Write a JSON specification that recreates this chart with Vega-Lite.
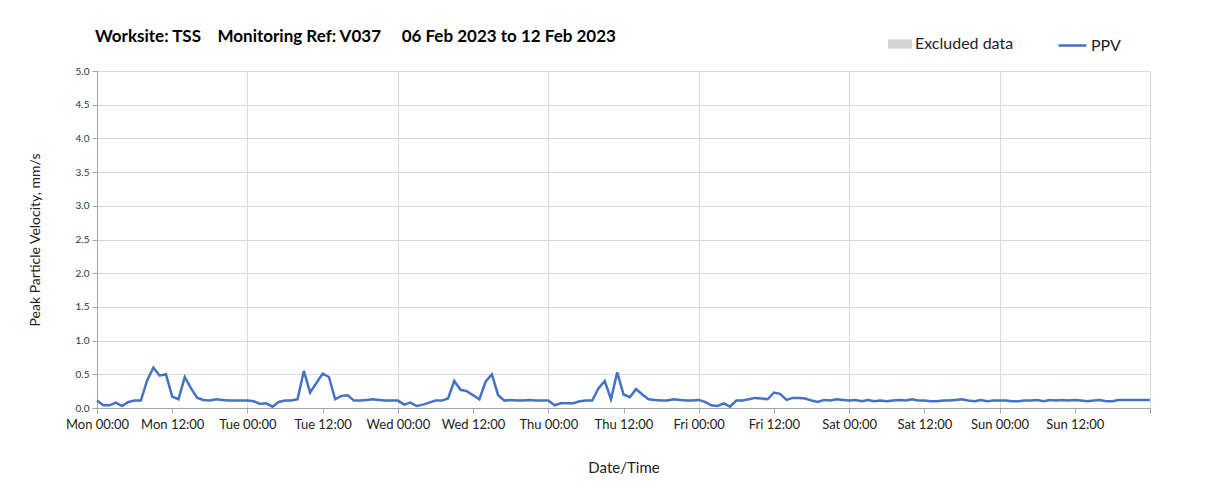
{
  "$schema": "https://vega.github.io/schema/vega-lite/v6.json",
  "width": 1053,
  "height": 337,
  "autosize": {"type": "none"},
  "padding": {"left": 97, "top": 71, "right": 58, "bottom": 91},
  "background": "#ffffff",
  "title": {
    "text": "Worksite: TSS\u00a0\u00a0\u00a0\u00a0Monitoring Ref: V037\u00a0\u00a0\u00a0\u00a0\u00a006 Feb 2023 to 12 Feb 2023",
    "anchor": "start",
    "frame": "group",
    "offset": 22,
    "dx": -2,
    "dy": 38,
    "font": "Lato",
    "fontSize": 17,
    "fontWeight": "bold",
    "color": "#000000"
  },
  "data": {
    "values": [
      {"t": "2023-02-06T00:00:00", "v": 0.11, "s": "PPV"},
      {"t": "2023-02-06T01:00:00", "v": 0.04, "s": "PPV"},
      {"t": "2023-02-06T02:00:00", "v": 0.04, "s": "PPV"},
      {"t": "2023-02-06T03:00:00", "v": 0.08, "s": "PPV"},
      {"t": "2023-02-06T04:00:00", "v": 0.03, "s": "PPV"},
      {"t": "2023-02-06T05:00:00", "v": 0.09, "s": "PPV"},
      {"t": "2023-02-06T06:00:00", "v": 0.11, "s": "PPV"},
      {"t": "2023-02-06T07:00:00", "v": 0.11, "s": "PPV"},
      {"t": "2023-02-06T08:00:00", "v": 0.41, "s": "PPV"},
      {"t": "2023-02-06T09:00:00", "v": 0.60, "s": "PPV"},
      {"t": "2023-02-06T10:00:00", "v": 0.48, "s": "PPV"},
      {"t": "2023-02-06T11:00:00", "v": 0.50, "s": "PPV"},
      {"t": "2023-02-06T12:00:00", "v": 0.17, "s": "PPV"},
      {"t": "2023-02-06T13:00:00", "v": 0.13, "s": "PPV"},
      {"t": "2023-02-06T14:00:00", "v": 0.46, "s": "PPV"},
      {"t": "2023-02-06T15:00:00", "v": 0.29, "s": "PPV"},
      {"t": "2023-02-06T16:00:00", "v": 0.15, "s": "PPV"},
      {"t": "2023-02-06T17:00:00", "v": 0.12, "s": "PPV"},
      {"t": "2023-02-06T18:00:00", "v": 0.11, "s": "PPV"},
      {"t": "2023-02-06T19:00:00", "v": 0.13, "s": "PPV"},
      {"t": "2023-02-06T20:00:00", "v": 0.12, "s": "PPV"},
      {"t": "2023-02-06T21:00:00", "v": 0.11, "s": "PPV"},
      {"t": "2023-02-06T22:00:00", "v": 0.11, "s": "PPV"},
      {"t": "2023-02-06T23:00:00", "v": 0.11, "s": "PPV"},
      {"t": "2023-02-07T00:00:00", "v": 0.11, "s": "PPV"},
      {"t": "2023-02-07T01:00:00", "v": 0.10, "s": "PPV"},
      {"t": "2023-02-07T02:00:00", "v": 0.06, "s": "PPV"},
      {"t": "2023-02-07T03:00:00", "v": 0.07, "s": "PPV"},
      {"t": "2023-02-07T04:00:00", "v": 0.02, "s": "PPV"},
      {"t": "2023-02-07T05:00:00", "v": 0.09, "s": "PPV"},
      {"t": "2023-02-07T06:00:00", "v": 0.11, "s": "PPV"},
      {"t": "2023-02-07T07:00:00", "v": 0.11, "s": "PPV"},
      {"t": "2023-02-07T08:00:00", "v": 0.13, "s": "PPV"},
      {"t": "2023-02-07T09:00:00", "v": 0.55, "s": "PPV"},
      {"t": "2023-02-07T10:00:00", "v": 0.23, "s": "PPV"},
      {"t": "2023-02-07T11:00:00", "v": 0.37, "s": "PPV"},
      {"t": "2023-02-07T12:00:00", "v": 0.51, "s": "PPV"},
      {"t": "2023-02-07T13:00:00", "v": 0.46, "s": "PPV"},
      {"t": "2023-02-07T14:00:00", "v": 0.13, "s": "PPV"},
      {"t": "2023-02-07T15:00:00", "v": 0.18, "s": "PPV"},
      {"t": "2023-02-07T16:00:00", "v": 0.19, "s": "PPV"},
      {"t": "2023-02-07T17:00:00", "v": 0.11, "s": "PPV"},
      {"t": "2023-02-07T18:00:00", "v": 0.11, "s": "PPV"},
      {"t": "2023-02-07T19:00:00", "v": 0.12, "s": "PPV"},
      {"t": "2023-02-07T20:00:00", "v": 0.13, "s": "PPV"},
      {"t": "2023-02-07T21:00:00", "v": 0.12, "s": "PPV"},
      {"t": "2023-02-07T22:00:00", "v": 0.11, "s": "PPV"},
      {"t": "2023-02-07T23:00:00", "v": 0.11, "s": "PPV"},
      {"t": "2023-02-08T00:00:00", "v": 0.11, "s": "PPV"},
      {"t": "2023-02-08T01:00:00", "v": 0.05, "s": "PPV"},
      {"t": "2023-02-08T02:00:00", "v": 0.08, "s": "PPV"},
      {"t": "2023-02-08T03:00:00", "v": 0.03, "s": "PPV"},
      {"t": "2023-02-08T04:00:00", "v": 0.05, "s": "PPV"},
      {"t": "2023-02-08T05:00:00", "v": 0.08, "s": "PPV"},
      {"t": "2023-02-08T06:00:00", "v": 0.11, "s": "PPV"},
      {"t": "2023-02-08T07:00:00", "v": 0.11, "s": "PPV"},
      {"t": "2023-02-08T08:00:00", "v": 0.14, "s": "PPV"},
      {"t": "2023-02-08T09:00:00", "v": 0.40, "s": "PPV"},
      {"t": "2023-02-08T10:00:00", "v": 0.27, "s": "PPV"},
      {"t": "2023-02-08T11:00:00", "v": 0.25, "s": "PPV"},
      {"t": "2023-02-08T12:00:00", "v": 0.19, "s": "PPV"},
      {"t": "2023-02-08T13:00:00", "v": 0.13, "s": "PPV"},
      {"t": "2023-02-08T14:00:00", "v": 0.39, "s": "PPV"},
      {"t": "2023-02-08T15:00:00", "v": 0.50, "s": "PPV"},
      {"t": "2023-02-08T16:00:00", "v": 0.19, "s": "PPV"},
      {"t": "2023-02-08T17:00:00", "v": 0.11, "s": "PPV"},
      {"t": "2023-02-08T18:00:00", "v": 0.12, "s": "PPV"},
      {"t": "2023-02-08T19:00:00", "v": 0.11, "s": "PPV"},
      {"t": "2023-02-08T20:00:00", "v": 0.11, "s": "PPV"},
      {"t": "2023-02-08T21:00:00", "v": 0.12, "s": "PPV"},
      {"t": "2023-02-08T22:00:00", "v": 0.11, "s": "PPV"},
      {"t": "2023-02-08T23:00:00", "v": 0.11, "s": "PPV"},
      {"t": "2023-02-09T00:00:00", "v": 0.11, "s": "PPV"},
      {"t": "2023-02-09T01:00:00", "v": 0.04, "s": "PPV"},
      {"t": "2023-02-09T02:00:00", "v": 0.07, "s": "PPV"},
      {"t": "2023-02-09T03:00:00", "v": 0.07, "s": "PPV"},
      {"t": "2023-02-09T04:00:00", "v": 0.07, "s": "PPV"},
      {"t": "2023-02-09T05:00:00", "v": 0.10, "s": "PPV"},
      {"t": "2023-02-09T06:00:00", "v": 0.11, "s": "PPV"},
      {"t": "2023-02-09T07:00:00", "v": 0.11, "s": "PPV"},
      {"t": "2023-02-09T08:00:00", "v": 0.29, "s": "PPV"},
      {"t": "2023-02-09T09:00:00", "v": 0.40, "s": "PPV"},
      {"t": "2023-02-09T10:00:00", "v": 0.13, "s": "PPV"},
      {"t": "2023-02-09T11:00:00", "v": 0.53, "s": "PPV"},
      {"t": "2023-02-09T12:00:00", "v": 0.20, "s": "PPV"},
      {"t": "2023-02-09T13:00:00", "v": 0.16, "s": "PPV"},
      {"t": "2023-02-09T14:00:00", "v": 0.28, "s": "PPV"},
      {"t": "2023-02-09T15:00:00", "v": 0.20, "s": "PPV"},
      {"t": "2023-02-09T16:00:00", "v": 0.13, "s": "PPV"},
      {"t": "2023-02-09T17:00:00", "v": 0.12, "s": "PPV"},
      {"t": "2023-02-09T18:00:00", "v": 0.11, "s": "PPV"},
      {"t": "2023-02-09T19:00:00", "v": 0.11, "s": "PPV"},
      {"t": "2023-02-09T20:00:00", "v": 0.13, "s": "PPV"},
      {"t": "2023-02-09T21:00:00", "v": 0.12, "s": "PPV"},
      {"t": "2023-02-09T22:00:00", "v": 0.11, "s": "PPV"},
      {"t": "2023-02-09T23:00:00", "v": 0.11, "s": "PPV"},
      {"t": "2023-02-10T00:00:00", "v": 0.12, "s": "PPV"},
      {"t": "2023-02-10T01:00:00", "v": 0.09, "s": "PPV"},
      {"t": "2023-02-10T02:00:00", "v": 0.04, "s": "PPV"},
      {"t": "2023-02-10T03:00:00", "v": 0.03, "s": "PPV"},
      {"t": "2023-02-10T04:00:00", "v": 0.07, "s": "PPV"},
      {"t": "2023-02-10T05:00:00", "v": 0.02, "s": "PPV"},
      {"t": "2023-02-10T06:00:00", "v": 0.11, "s": "PPV"},
      {"t": "2023-02-10T07:00:00", "v": 0.11, "s": "PPV"},
      {"t": "2023-02-10T08:00:00", "v": 0.13, "s": "PPV"},
      {"t": "2023-02-10T09:00:00", "v": 0.15, "s": "PPV"},
      {"t": "2023-02-10T10:00:00", "v": 0.14, "s": "PPV"},
      {"t": "2023-02-10T11:00:00", "v": 0.13, "s": "PPV"},
      {"t": "2023-02-10T12:00:00", "v": 0.23, "s": "PPV"},
      {"t": "2023-02-10T13:00:00", "v": 0.21, "s": "PPV"},
      {"t": "2023-02-10T14:00:00", "v": 0.12, "s": "PPV"},
      {"t": "2023-02-10T15:00:00", "v": 0.15, "s": "PPV"},
      {"t": "2023-02-10T16:00:00", "v": 0.15, "s": "PPV"},
      {"t": "2023-02-10T17:00:00", "v": 0.14, "s": "PPV"},
      {"t": "2023-02-10T18:00:00", "v": 0.11, "s": "PPV"},
      {"t": "2023-02-10T19:00:00", "v": 0.09, "s": "PPV"},
      {"t": "2023-02-10T20:00:00", "v": 0.12, "s": "PPV"},
      {"t": "2023-02-10T21:00:00", "v": 0.11, "s": "PPV"},
      {"t": "2023-02-10T22:00:00", "v": 0.13, "s": "PPV"},
      {"t": "2023-02-10T23:00:00", "v": 0.12, "s": "PPV"},
      {"t": "2023-02-11T00:00:00", "v": 0.11, "s": "PPV"},
      {"t": "2023-02-11T01:00:00", "v": 0.12, "s": "PPV"},
      {"t": "2023-02-11T02:00:00", "v": 0.10, "s": "PPV"},
      {"t": "2023-02-11T03:00:00", "v": 0.12, "s": "PPV"},
      {"t": "2023-02-11T04:00:00", "v": 0.10, "s": "PPV"},
      {"t": "2023-02-11T05:00:00", "v": 0.11, "s": "PPV"},
      {"t": "2023-02-11T06:00:00", "v": 0.10, "s": "PPV"},
      {"t": "2023-02-11T07:00:00", "v": 0.11, "s": "PPV"},
      {"t": "2023-02-11T08:00:00", "v": 0.12, "s": "PPV"},
      {"t": "2023-02-11T09:00:00", "v": 0.11, "s": "PPV"},
      {"t": "2023-02-11T10:00:00", "v": 0.13, "s": "PPV"},
      {"t": "2023-02-11T11:00:00", "v": 0.11, "s": "PPV"},
      {"t": "2023-02-11T12:00:00", "v": 0.11, "s": "PPV"},
      {"t": "2023-02-11T13:00:00", "v": 0.10, "s": "PPV"},
      {"t": "2023-02-11T14:00:00", "v": 0.10, "s": "PPV"},
      {"t": "2023-02-11T15:00:00", "v": 0.11, "s": "PPV"},
      {"t": "2023-02-11T16:00:00", "v": 0.11, "s": "PPV"},
      {"t": "2023-02-11T17:00:00", "v": 0.12, "s": "PPV"},
      {"t": "2023-02-11T18:00:00", "v": 0.13, "s": "PPV"},
      {"t": "2023-02-11T19:00:00", "v": 0.11, "s": "PPV"},
      {"t": "2023-02-11T20:00:00", "v": 0.10, "s": "PPV"},
      {"t": "2023-02-11T21:00:00", "v": 0.12, "s": "PPV"},
      {"t": "2023-02-11T22:00:00", "v": 0.10, "s": "PPV"},
      {"t": "2023-02-11T23:00:00", "v": 0.11, "s": "PPV"},
      {"t": "2023-02-12T00:00:00", "v": 0.11, "s": "PPV"},
      {"t": "2023-02-12T01:00:00", "v": 0.11, "s": "PPV"},
      {"t": "2023-02-12T02:00:00", "v": 0.10, "s": "PPV"},
      {"t": "2023-02-12T03:00:00", "v": 0.10, "s": "PPV"},
      {"t": "2023-02-12T04:00:00", "v": 0.11, "s": "PPV"},
      {"t": "2023-02-12T05:00:00", "v": 0.11, "s": "PPV"},
      {"t": "2023-02-12T06:00:00", "v": 0.12, "s": "PPV"},
      {"t": "2023-02-12T07:00:00", "v": 0.10, "s": "PPV"},
      {"t": "2023-02-12T08:00:00", "v": 0.12, "s": "PPV"},
      {"t": "2023-02-12T09:00:00", "v": 0.11, "s": "PPV"},
      {"t": "2023-02-12T10:00:00", "v": 0.12, "s": "PPV"},
      {"t": "2023-02-12T11:00:00", "v": 0.11, "s": "PPV"},
      {"t": "2023-02-12T12:00:00", "v": 0.12, "s": "PPV"},
      {"t": "2023-02-12T13:00:00", "v": 0.11, "s": "PPV"},
      {"t": "2023-02-12T14:00:00", "v": 0.10, "s": "PPV"},
      {"t": "2023-02-12T15:00:00", "v": 0.11, "s": "PPV"},
      {"t": "2023-02-12T16:00:00", "v": 0.12, "s": "PPV"},
      {"t": "2023-02-12T17:00:00", "v": 0.10, "s": "PPV"},
      {"t": "2023-02-12T18:00:00", "v": 0.10, "s": "PPV"},
      {"t": "2023-02-12T19:00:00", "v": 0.12, "s": "PPV"},
      {"t": "2023-02-12T20:00:00", "v": 0.12, "s": "PPV"},
      {"t": "2023-02-12T21:00:00", "v": 0.12, "s": "PPV"},
      {"t": "2023-02-12T22:00:00", "v": 0.12, "s": "PPV"},
      {"t": "2023-02-12T23:00:00", "v": 0.12, "s": "PPV"},
      {"t": "2023-02-13T00:00:00", "v": 0.12, "s": "PPV"}
    ]
  },
  "encoding": {
    "y": {
      "field": "v",
      "type": "quantitative",
      "scale": {"domain": [0, 5], "nice": false},
      "axis": {
        "title": "Peak Particle Velocity, mm/s",
        "values": [0, 0.5, 1, 1.5, 2, 2.5, 3, 3.5, 4, 4.5, 5],
        "format": ".1f",
        "labelFont": "Lato",
        "labelFontSize": 10,
        "labelColor": "#333333",
        "labelPadding": 3,
        "tickSize": 5,
        "tickColor": "#a6a6a6",
        "domainColor": "#a6a6a6",
        "grid": true,
        "gridColor": "#d9d9d9",
        "titleFont": "Lato",
        "titleFontSize": 14,
        "titleFontWeight": "normal",
        "titleColor": "#222222",
        "titlePadding": 33
      }
    }
  },
  "layer": [
    {
      "mark": {"type": "point", "opacity": 0, "filled": true},
      "encoding": {
        "x": {
          "field": "t",
          "type": "temporal",
          "scale": {
            "domain": [
              {"year": 2023, "month": 2, "date": 6, "hours": 0},
              {"year": 2023, "month": 2, "date": 13, "hours": 0}
            ],
            "nice": false
          },
          "axis": {
            "orient": "top",
            "title": null,
            "tickCount": {"interval": "day", "step": 1},
            "labels": false,
            "ticks": false,
            "domain": false,
            "grid": true,
            "gridColor": "#d9d9d9"
          }
        },
        "fill": {
          "datum": "Excluded data",
          "type": "nominal",
          "scale": {"domain": ["Excluded data"], "range": ["#d3d3d3"]},
          "legend": {
            "title": null,
            "orient": "none",
            "legendX": 791,
            "legendY": -39,
            "labelFont": "Lato",
            "labelFontSize": 16,
            "labelColor": "#222222",
            "labelOffset": 3,
            "symbolType": "M-1,-0.38H1V0.38H-1Z",
            "symbolSize": 576,
            "symbolOpacity": 1,
            "symbolStrokeWidth": 0
          }
        }
      }
    },
    {
      "mark": {"type": "line", "strokeWidth": 2.5, "interpolate": "linear"},
      "encoding": {
        "x": {
          "field": "t",
          "type": "temporal",
          "axis": {
            "orient": "bottom",
            "title": "Date/Time",
            "tickCount": {"interval": "hours", "step": 12},
            "labelExpr": "datum.index >= 1 ? '' : timeFormat(datum.value, '%a %H:%M')",
            "labelFont": "Lato",
            "labelFontSize": 13,
            "labelColor": "#222222",
            "labelPadding": 5,
            "labelFlush": false,
            "labelOverlap": false,
            "tickSize": 5,
            "tickColor": "#a6a6a6",
            "domainColor": "#a6a6a6",
            "grid": false,
            "titleFont": "Lato",
            "titleFontSize": 15,
            "titleFontWeight": "normal",
            "titleColor": "#222222",
            "titlePadding": 29
          }
        },
        "color": {
          "field": "s",
          "type": "nominal",
          "scale": {"domain": ["PPV"], "range": ["#4472c4"]},
          "legend": {
            "title": null,
            "orient": "none",
            "legendX": 960,
            "legendY": -41,
            "labelFont": "Lato",
            "labelFontSize": 16,
            "labelColor": "#222222",
            "labelOffset": 3,
            "symbolType": "stroke",
            "symbolSize": 784,
            "symbolStrokeWidth": 2.5
          }
        }
      }
    }
  ],
  "resolve": {"axis": {"x": "independent"}},
  "config": {
    "view": {"stroke": null}
  }
}
